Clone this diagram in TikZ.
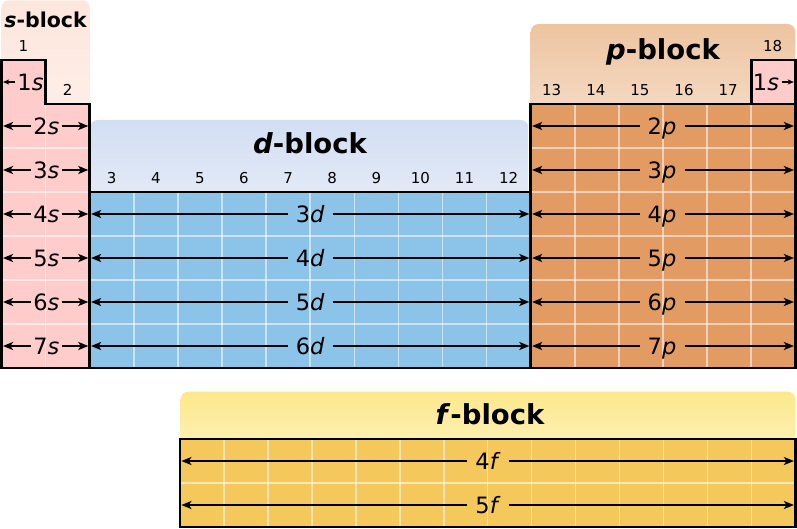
\documentclass[tikz,border=0pt]{standalone}
\usepackage{fontspec}
\setmainfont{DejaVu Sans}
\usetikzlibrary{arrows.meta}
\definecolor{scell}{RGB}{255,204,204}
\definecolor{dcell}{RGB}{139,196,232}
\definecolor{pcell}{RGB}{226,156,99}
\definecolor{fcell}{RGB}{245,200,92}
\definecolor{stabtop}{RGB}{253,230,221}
\definecolor{stabbot}{RGB}{254,238,232}
\definecolor{ptabtop}{RGB}{237,196,160}
\definecolor{ptabbot}{RGB}{245,218,196}
\definecolor{dtabtop}{RGB}{210,222,242}
\definecolor{dtabbot}{RGB}{228,235,247}
\definecolor{ftabtop}{RGB}{253,232,140}
\definecolor{ftabbot}{RGB}{253,241,182}
\tikzset{
  outline/.style={draw=black, line width=2.8pt, line join=miter},
  gridline/.style={draw=white, opacity=0.55, line width=1.6pt},
  lbl/.style={font=\fontsize{22.5}{22.5}\selectfont, text height=16.4pt, text depth=0pt, inner ysep=0pt, inner xsep=8pt, anchor=center},
  slbl/.style={lbl, inner xsep=2.5pt},
  grp/.style={font=\fontsize{15}{15}\selectfont, anchor=base, inner sep=0pt},
  blocktitle/.style={font=\fontsize{27.5}{27.5}\selectfont\bfseries, anchor=base, inner sep=0pt},
  arr/.style={-{Stealth[length=10pt,width=8pt,inset=2.5pt]}, line width=1.9pt},
  sarr/.style={-{Stealth[length=6pt,width=5pt,inset=1.5pt]}, line width=1.6pt},
}
\begin{document}
\begin{tikzpicture}[x=1pt,y=-1pt]
\useasboundingbox (0,0) rectangle (797,529);
% tabs
\shade[top color=stabtop, bottom color=stabbot, rounded corners=7pt] (1.5,0.5) rectangle (89.7,112);
\shade[top color=ptabtop, bottom color=ptabbot, rounded corners=8pt] (530.7,24) rectangle (795.3,112);
\shade[top color=dtabtop, bottom color=dtabbot, rounded corners=8pt] (89.7,120) rectangle (528.5,200);
\shade[top color=ftabtop, bottom color=ftabbot, rounded corners=8pt] (180.5,391.5) rectangle (795.3,447);
% cell fills
\fill[scell] (1.5,60) -- (45.6,60) -- (45.6,104) -- (89.7,104) -- (89.7,368) -- (1.5,368) -- cycle;
\fill[dcell] (89.7,192) rectangle (530.7,368);
\fill[pcell] (530.7,104) rectangle (795.3,368);
\fill[scell] (751.2,60) rectangle (795.3,104);
\fill[fcell] (180,439) rectangle (795.3,527);
% grid lines
\draw[gridline] (45.6,104) -- (45.6,368);
\foreach \y in {148,192,236,280,324} \draw[gridline] (1.5,\y) -- (89.7,\y);
\foreach \x in {133.8,177.9,222.0,266.1,310.2,354.3,398.4,442.5,486.6} \draw[gridline] (\x,192) -- (\x,368);
\foreach \y in {236,280,324} \draw[gridline] (89.7,\y) -- (530.7,\y);
\foreach \x in {574.8,618.9,663.0,707.1,751.2} \draw[gridline] (\x,104) -- (\x,368);
\foreach \y in {148,192,236,280,324} \draw[gridline] (530.7,\y) -- (795.3,\y);
\foreach \j in {1,...,13} \draw[gridline] ({180+\j*43.95},439) -- ({180+\j*43.95},527);
\draw[gridline] (180,483) -- (795.3,483);
% outlines
\draw[outline] (1.5,60) -- (45.6,60) -- (45.6,104) -- (89.7,104) -- (89.7,368) -- (1.5,368) -- cycle;
\draw[outline] (89.7,192) rectangle (530.7,368);
\draw[outline] (530.7,104) rectangle (795.3,368);
\draw[outline] (751.2,104) -- (751.2,60) -- (795.3,60) -- (795.3,104);
\draw[outline] (180,439) rectangle (795.3,527);
% titles
\node[blocktitle, font=\fontsize{20.5}{20.5}\selectfont\bfseries] (ts) at (45.6,27.3) {\textit{s}-block};
\node[blocktitle] (tp) at (663,59.3) {\textit{p}-block};
\node[blocktitle] (td) at (310,153.3) {\textit{d}-block};
\node[blocktitle] (tf) at (490,424.5) {\textit{f}-block};
% group numbers
\node[grp] (g1) at (23.5,52) {1};
\node[grp] (g2) at (67.6,96) {2};
\foreach \n/\x in {3/111.7,4/155.8,5/199.9,6/244.0,7/288.1,8/332.2,9/376.3,10/420.4,11/464.5,12/508.6}
  \node[grp] (g\n) at (\x,184) {\n};
\foreach \n/\x in {13/551.7,14/595.8,15/639.9,16/684.0,17/728.1}
  \node[grp] (g\n) at (\x,96) {\n};
\node[grp] (g18) at (772.7,52) {18};
% 1s
\node[slbl] (s1) at (30.5,82) {1\textit{s}};
\coordinate (s1l) at (3,82);
\draw[sarr] (s1.west) -- (s1l);
\node[slbl] (he) at (766,82) {1\textit{s}};
\coordinate (her) at (793.8,82);
\draw[sarr] (he.east) -- (her);
% s rows
\foreach \r/\y in {2/126,3/170,4/214,5/258,6/302,7/346} {
  \node[slbl] (s\r) at (46.3,\y) {\r\textit{s}};
  \coordinate (sl\r) at (3,\y);
  \coordinate (sr\r) at (88.3,\y);
  \draw[arr] (s\r.west) -- (sl\r);
  \draw[arr] (s\r.east) -- (sr\r);
}
% d rows
\foreach \r/\n/\y in {4/3/214,5/4/258,6/5/302,7/6/346} {
  \node[lbl] (d\r) at (310.2,\y) {\n\textit{d}};
  \coordinate (dl\r) at (91.1,\y);
  \coordinate (dr\r) at (529.3,\y);
  \draw[arr] (d\r.west) -- (dl\r);
  \draw[arr] (d\r.east) -- (dr\r);
}
% p rows
\foreach \r/\y in {2/126,3/170,4/214,5/258,6/302,7/346} {
  \node[lbl] (p\r) at (662,\y) {\r\textit{p}};
  \coordinate (pl\r) at (532.1,\y);
  \coordinate (pr\r) at (793.9,\y);
  \draw[arr] (p\r.west) -- (pl\r);
  \draw[arr] (p\r.east) -- (pr\r);
}
% f rows
\foreach \n/\y in {4/461,5/505} {
  \node[lbl] (f\n) at (488,\y) {\n\textit{f}};
  \coordinate (fl\n) at (181.4,\y);
  \coordinate (fr\n) at (793.9,\y);
  \draw[arr] (f\n.west) -- (fl\n);
  \draw[arr] (f\n.east) -- (fr\n);
}
\end{tikzpicture}
\end{document}
